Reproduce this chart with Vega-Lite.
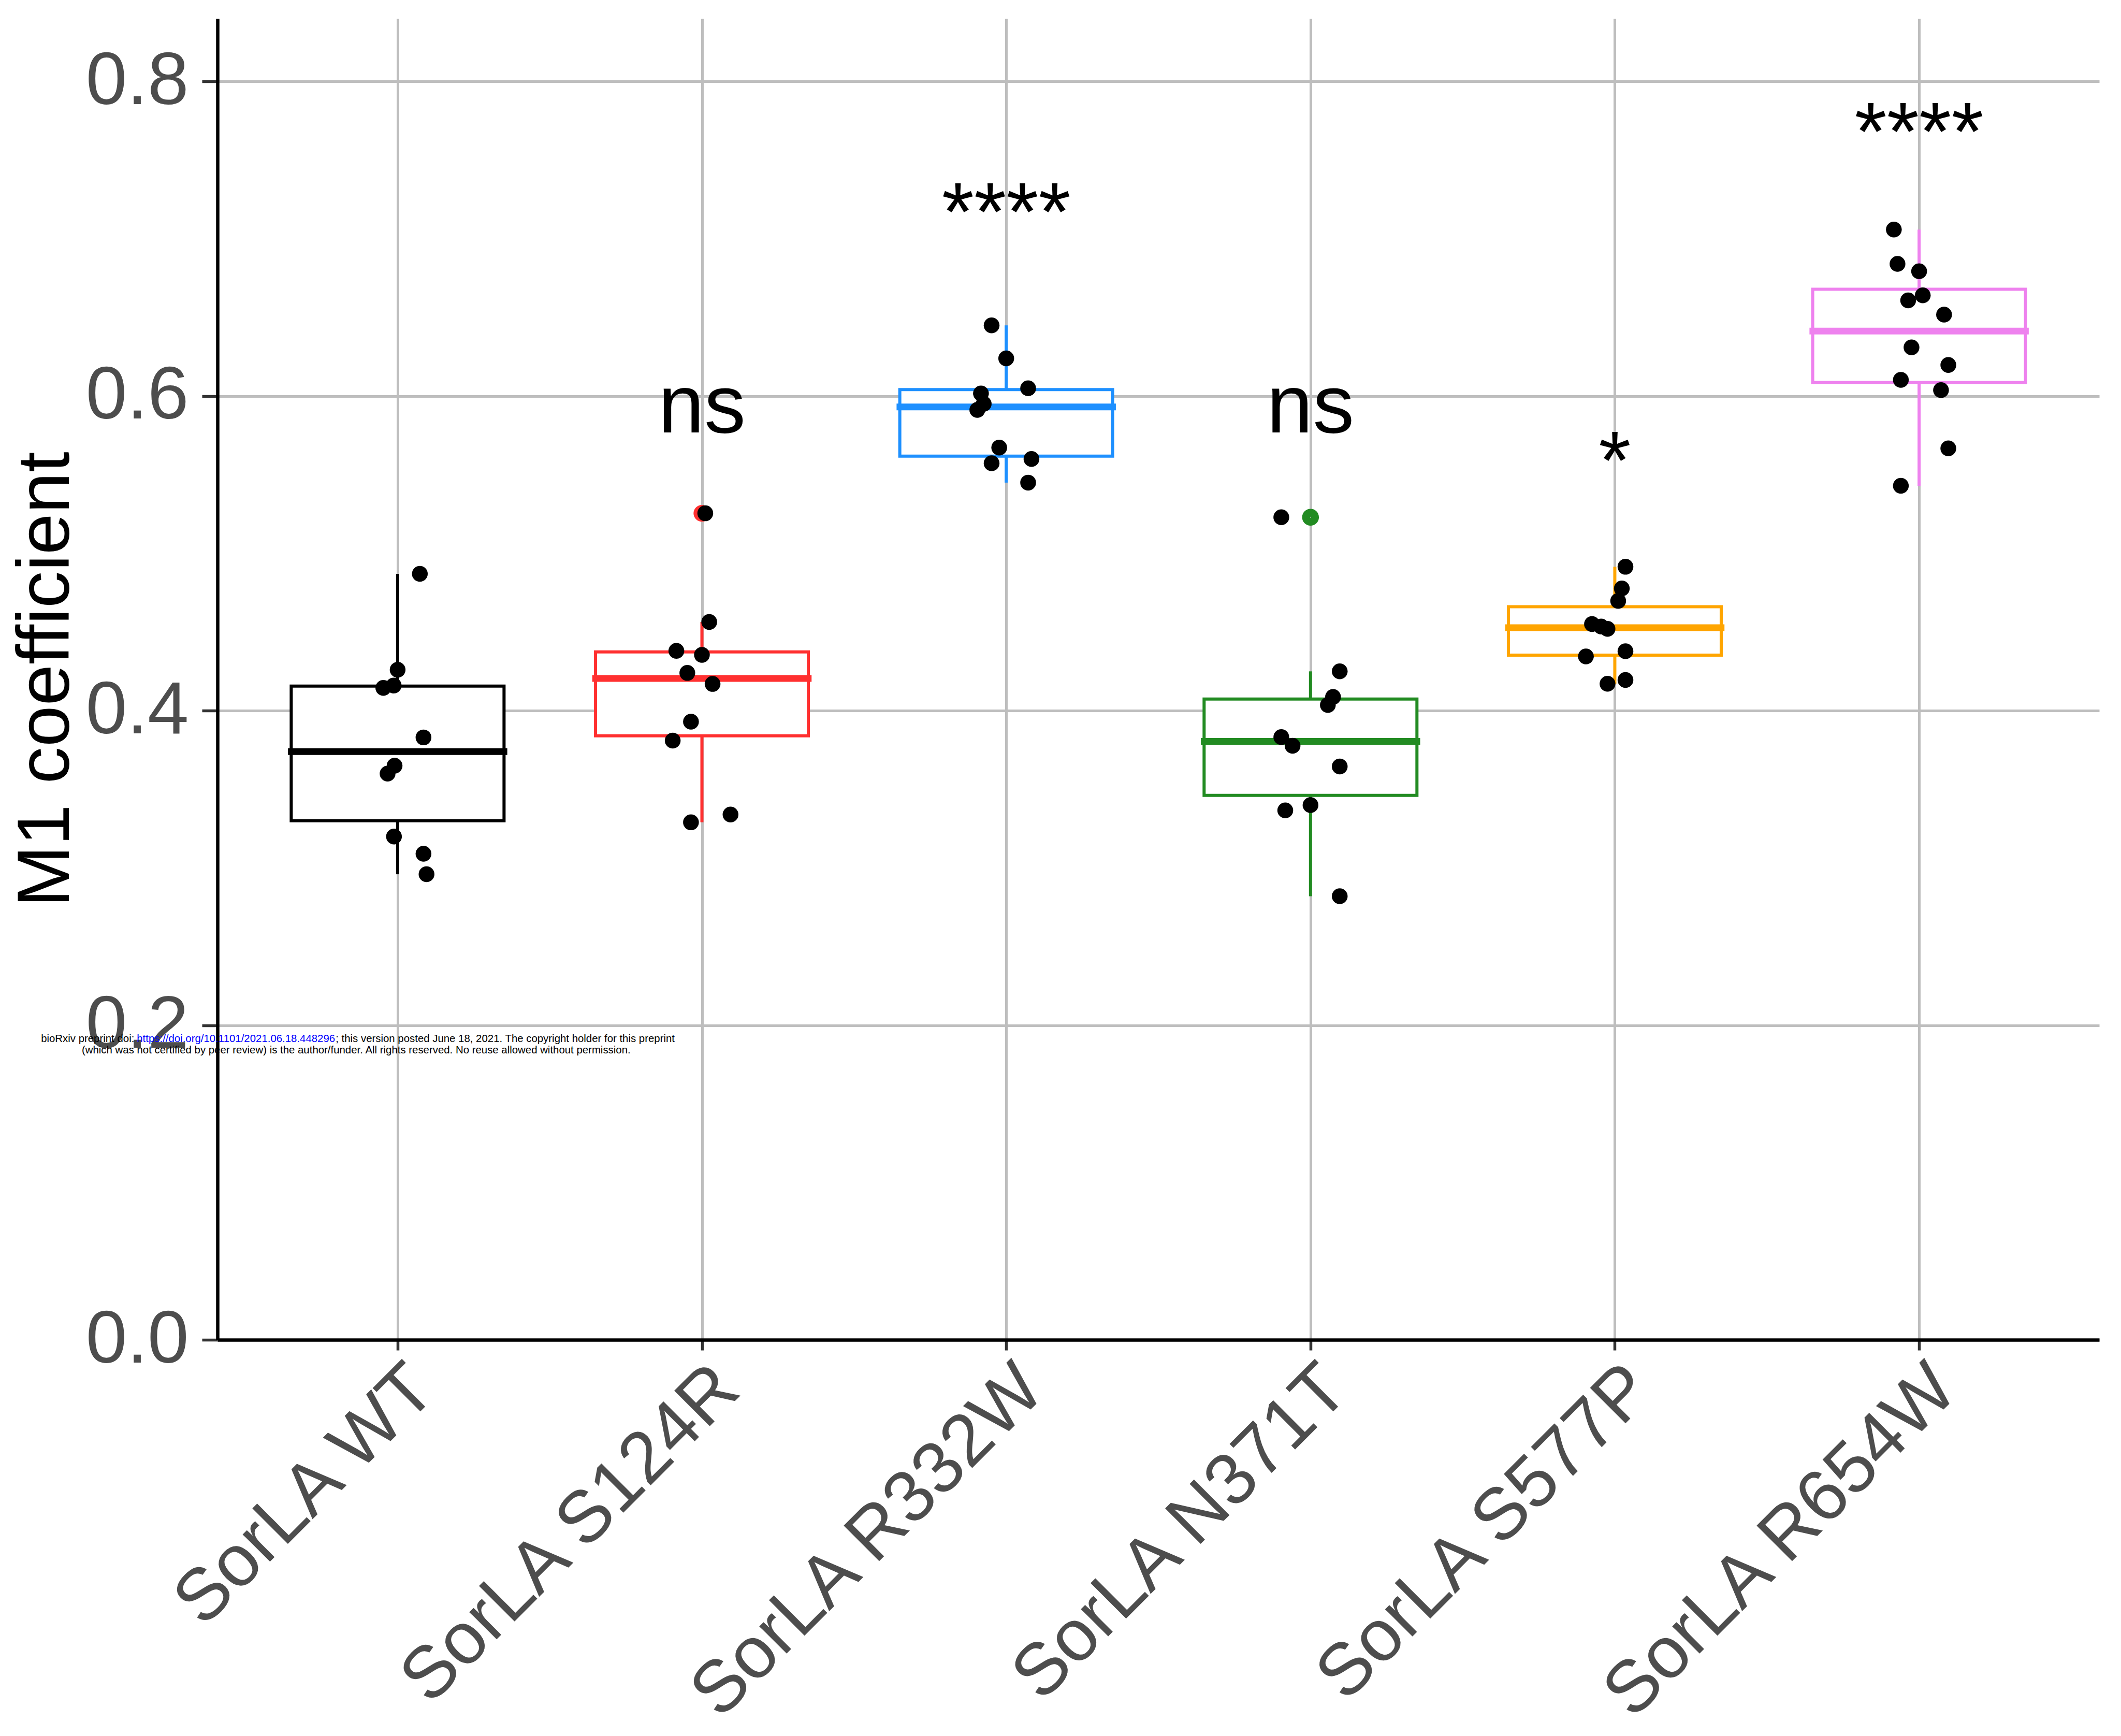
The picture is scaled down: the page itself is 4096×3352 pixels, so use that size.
{
  "$schema": "https://vega.github.io/schema/vega-lite/v6.json",
  "width": 3634,
  "height": 2551,
  "autosize": {"type": "none"},
  "padding": {"left": 420, "top": 36, "right": 42, "bottom": 765},
  "background": "white",
  "config": {
    "view": {"stroke": null},
    "font": "Liberation Sans",
    "axis": {"labelFont": "Liberation Sans", "titleFont": "Liberation Sans"}
  },
  "datasets": {
    "pts": [
      {"g": "SorLA WT", "m1": 0.487, "jit": 0.073},
      {"g": "SorLA WT", "m1": 0.426, "jit": 0.0},
      {"g": "SorLA WT", "m1": 0.4145, "jit": -0.047},
      {"g": "SorLA WT", "m1": 0.416, "jit": -0.013},
      {"g": "SorLA WT", "m1": 0.383, "jit": 0.085},
      {"g": "SorLA WT", "m1": 0.360, "jit": -0.033},
      {"g": "SorLA WT", "m1": 0.365, "jit": -0.010},
      {"g": "SorLA WT", "m1": 0.320, "jit": -0.012},
      {"g": "SorLA WT", "m1": 0.309, "jit": 0.085},
      {"g": "SorLA WT", "m1": 0.296, "jit": 0.095},
      {"g": "SorLA S124R", "m1": 0.5255, "jit": 0.011},
      {"g": "SorLA S124R", "m1": 0.4564, "jit": 0.024},
      {"g": "SorLA S124R", "m1": 0.438, "jit": -0.084},
      {"g": "SorLA S124R", "m1": 0.4355, "jit": 0.0},
      {"g": "SorLA S124R", "m1": 0.424, "jit": -0.048},
      {"g": "SorLA S124R", "m1": 0.417, "jit": 0.035},
      {"g": "SorLA S124R", "m1": 0.393, "jit": -0.036},
      {"g": "SorLA S124R", "m1": 0.381, "jit": -0.096},
      {"g": "SorLA S124R", "m1": 0.334, "jit": 0.094},
      {"g": "SorLA S124R", "m1": 0.329, "jit": -0.036},
      {"g": "SorLA R332W", "m1": 0.645, "jit": -0.048},
      {"g": "SorLA R332W", "m1": 0.624, "jit": 0.0},
      {"g": "SorLA R332W", "m1": 0.605, "jit": 0.072},
      {"g": "SorLA R332W", "m1": 0.6017, "jit": -0.083},
      {"g": "SorLA R332W", "m1": 0.5951, "jit": -0.074},
      {"g": "SorLA R332W", "m1": 0.5912, "jit": -0.095},
      {"g": "SorLA R332W", "m1": 0.5673, "jit": -0.023},
      {"g": "SorLA R332W", "m1": 0.5573, "jit": -0.048},
      {"g": "SorLA R332W", "m1": 0.560, "jit": 0.083},
      {"g": "SorLA R332W", "m1": 0.545, "jit": 0.072},
      {"g": "SorLA N371T", "m1": 0.523, "jit": -0.096},
      {"g": "SorLA N371T", "m1": 0.425, "jit": 0.096},
      {"g": "SorLA N371T", "m1": 0.4087, "jit": 0.074},
      {"g": "SorLA N371T", "m1": 0.4036, "jit": 0.057},
      {"g": "SorLA N371T", "m1": 0.3832, "jit": -0.096},
      {"g": "SorLA N371T", "m1": 0.3777, "jit": -0.059},
      {"g": "SorLA N371T", "m1": 0.3645, "jit": 0.096},
      {"g": "SorLA N371T", "m1": 0.340, "jit": 0.0},
      {"g": "SorLA N371T", "m1": 0.3366, "jit": -0.083},
      {"g": "SorLA N371T", "m1": 0.282, "jit": 0.096},
      {"g": "SorLA S577P", "m1": 0.4915, "jit": 0.035},
      {"g": "SorLA S577P", "m1": 0.4777, "jit": 0.023},
      {"g": "SorLA S577P", "m1": 0.4698, "jit": 0.011},
      {"g": "SorLA S577P", "m1": 0.4551, "jit": -0.075},
      {"g": "SorLA S577P", "m1": 0.4535, "jit": -0.045},
      {"g": "SorLA S577P", "m1": 0.452, "jit": -0.024},
      {"g": "SorLA S577P", "m1": 0.4378, "jit": 0.035},
      {"g": "SorLA S577P", "m1": 0.4345, "jit": -0.095},
      {"g": "SorLA S577P", "m1": 0.4195, "jit": 0.035},
      {"g": "SorLA S577P", "m1": 0.4171, "jit": -0.024},
      {"g": "SorLA R654W", "m1": 0.7059, "jit": -0.083},
      {"g": "SorLA R654W", "m1": 0.6841, "jit": -0.071},
      {"g": "SorLA R654W", "m1": 0.6794, "jit": 0.0},
      {"g": "SorLA R654W", "m1": 0.6609, "jit": -0.036},
      {"g": "SorLA R654W", "m1": 0.6641, "jit": 0.012},
      {"g": "SorLA R654W", "m1": 0.6518, "jit": 0.082},
      {"g": "SorLA R654W", "m1": 0.631, "jit": -0.025},
      {"g": "SorLA R654W", "m1": 0.6198, "jit": 0.096},
      {"g": "SorLA R654W", "m1": 0.6103, "jit": -0.060},
      {"g": "SorLA R654W", "m1": 0.6038, "jit": 0.072},
      {"g": "SorLA R654W", "m1": 0.5668, "jit": 0.096},
      {"g": "SorLA R654W", "m1": 0.543, "jit": -0.060}
    ],
    "ann": [
      {"g": "SorLA S124R", "label": "ns", "ypos": 0.577},
      {"g": "SorLA R332W", "label": "****", "ypos": 0.699},
      {"g": "SorLA N371T", "label": "ns", "ypos": 0.577},
      {"g": "SorLA S577P", "label": "*", "ypos": 0.541},
      {"g": "SorLA R654W", "label": "****", "ypos": 0.750}
    ],
    "wm": [
      {"xpos": -0.0938, "ypos": 0.1893, "txt": "bioRxiv preprint doi: ", "part": "plain"},
      {"xpos": -0.04285, "ypos": 0.1893, "txt": "https://doi.org/10.1101/2021.06.18.448296", "part": "link"},
      {"xpos": 0.0628, "ypos": 0.1893, "txt": "; this version posted June 18, 2021. The copyright holder for this preprint", "part": "plain"},
      {"xpos": -0.0721, "ypos": 0.1821, "txt": "(which was not certified by peer review) is the author/funder. All rights reserved. No reuse allowed without permission.", "part": "plain"}
    ]
  },
  "layer": [
    {
      "layer": [
        {
          "data": {"name": "pts"},
          "mark": {
            "type": "boxplot",
            "extent": 1.5,
            "size": 411,
            "box": {"fill": "white", "strokeWidth": 6},
            "median": {"thickness": 0.5, "strokeWidth": 12.5, "opacity": 1},
            "rule": {"strokeWidth": 6},
            "outliers": {"size": 232, "strokeWidth": 17.2, "filled": false, "opacity": 1},
            "ticks": false
          },
          "encoding": {
            "x": {
              "field": "g", "type": "nominal",
              "scale": {"type": "point", "padding": 0.592, "domain": ["SorLA WT", "SorLA S124R", "SorLA R332W", "SorLA N371T", "SorLA S577P", "SorLA R654W"]},
              "axis": {
                "title": null, "labelAngle": -45, "labelAlign": "right", "labelBaseline": "top",
                "labelFontSize": 141, "labelColor": "#4D4D4D", "labelLimit": 3000, "labelOverlap": false,
                "labelPadding": 4, "tickSize": 20, "tickWidth": 5.5, "tickColor": "#333333",
                "domainColor": "black", "domainWidth": 6.5,
                "grid": true, "gridColor": "#BEBEBE", "gridWidth": 5
              }
            },
            "y": {
              "field": "m1", "type": "quantitative", "title": "M1 coefficient",
              "scale": {"domain": [0, 0.84], "nice": false},
              "axis": {
                "values": [0, 0.2, 0.4, 0.6, 0.8], "format": ".1f",
                "labelFontSize": 143, "labelColor": "#4D4D4D", "labelPadding": 26, "labelLimit": 3000,
                "tickSize": 30, "tickWidth": 5.5, "tickColor": "#333333",
                "domainColor": "black", "domainWidth": 6.5,
                "grid": true, "gridColor": "#BEBEBE", "gridWidth": 5,
                "titleFontSize": 143, "titleColor": "black", "titleFontWeight": "normal", "titlePadding": 58
              }
            },
            "stroke": {
              "field": "g", "type": "nominal", "legend": null,
              "scale": {
                "domain": ["SorLA WT", "SorLA S124R", "SorLA R332W", "SorLA N371T", "SorLA S577P", "SorLA R654W"],
                "range": ["#000000", "#FF3030", "#1E90FF", "#228B22", "#FFA500", "#EE82EE"]
              }
            }
          }
        },
        {
          "data": {"name": "pts"},
          "mark": {"type": "point", "filled": true, "size": 929, "color": "black", "opacity": 1, "strokeWidth": 0},
          "encoding": {
            "x": {"field": "g", "type": "nominal"},
            "xOffset": {"field": "jit", "type": "quantitative", "scale": {"domain": [-1, 1], "range": [-587.6, 587.6]}},
            "y": {"field": "m1", "type": "quantitative", "title": "M1 coefficient"}
          }
        },
        {
          "data": {"name": "ann"},
          "mark": {"type": "text", "fontSize": 160, "color": "black", "align": "center", "baseline": "alphabetic", "font": "Liberation Sans"},
          "encoding": {
            "x": {"field": "g", "type": "nominal"},
            "y": {"field": "ypos", "type": "quantitative", "title": "M1 coefficient"},
            "text": {"field": "label"}
          }
        }
      ]
    },
    {
      "data": {"name": "wm"},
      "mark": {"type": "text", "font": "Liberation Sans", "fontSize": 20.4, "align": "left", "baseline": "alphabetic"},
      "encoding": {
        "x": {"field": "xpos", "type": "quantitative", "scale": {"domain": [0, 1], "nice": false, "zero": false}, "axis": null},
        "y": {"field": "ypos", "type": "quantitative", "title": "M1 coefficient"},
        "text": {"field": "txt"},
        "color": {"field": "part", "type": "nominal", "legend": null, "scale": {"domain": ["plain", "link"], "range": ["#000000", "#0000FF"]}}
      }
    }
  ],
  "resolve": {"scale": {"x": "independent"}}
}
